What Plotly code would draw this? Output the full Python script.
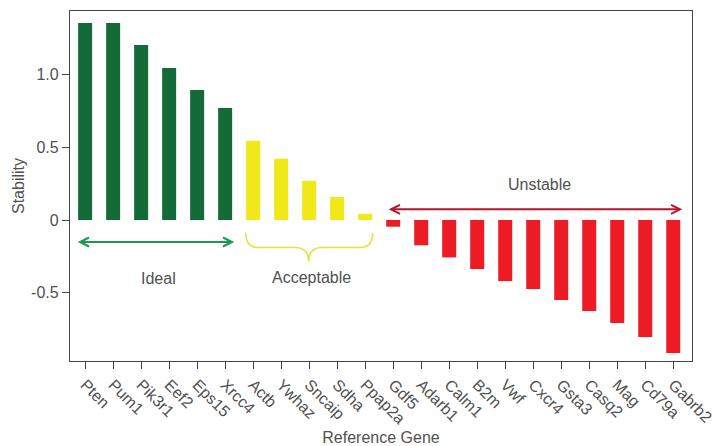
import plotly.graph_objects as go

# Reference genes ranked by expression stability
genes = ["Pten", "Pum1", "Pik3r1", "Eef2", "Eps15", "Xrcc4",
         "Actb", "Ywhaz", "Sncaip", "Sdha", "Ppap2a",
         "Gdf5", "Adarb1", "Calm1", "B2m", "Vwf", "Cxcr4", "Gsta3",
         "Casq2", "Mag", "Cd79a", "Gabrb2"]
stability = [1.356, 1.356, 1.204, 1.046, 0.895, 0.771,
             0.546, 0.422, 0.270, 0.158, 0.043,
             -0.046, -0.174, -0.257, -0.337, -0.420, -0.475, -0.550,
             -0.626, -0.709, -0.805, -0.915]
groups = ["Ideal"] * 6 + ["Acceptable"] * 5 + ["Unstable"] * 11

group_colors = {"Ideal": "#146B37", "Acceptable": "#F0E818", "Unstable": "#ED1C24"}
bar_colors = [group_colors[g] for g in groups]

y_tick_vals = [-0.5, 0, 0.5, 1.0]
y_tick_text = ["-0.5", "0", "0.5", "1.0"]

x_pos = list(range(len(genes)))
X_RANGE = [-0.54, 21.67]
Y_RANGE = [-0.97, 1.438]

W, H = 722, 446
M = dict(l=70, r=30, t=11, b=85)
px_x = (W - M["l"] - M["r"]) / (X_RANGE[1] - X_RANGE[0])
px_y = (H - M["t"] - M["b"]) / (Y_RANGE[1] - Y_RANGE[0])

fig = go.Figure(go.Bar(
    x=x_pos, y=stability, width=0.5,
    marker=dict(color=bar_colors, line=dict(width=0)),
    hovertext=genes,
))

TXT = "#505050"
text_font = dict(family="Liberation Sans, Arial, sans-serif", size=16, color=TXT)


def double_arrow(x0, x1, y, color):
    """Horizontal line with open chevron heads at both ends."""
    dx = 9 / px_x
    dy = 4.5 / px_y
    fig.add_shape(type="line", x0=x0, x1=x1, y0=y, y1=y,
                  line=dict(color=color, width=2))
    for xe, s in ((x0, 1), (x1, -1)):
        fig.add_shape(type="path",
                      path=f"M {xe + s*dx} {y + dy} L {xe} {y} L {xe + s*dx} {y - dy}",
                      line=dict(color=color, width=2))


def bx(p):
    return X_RANGE[0] + (p - M["l"]) / px_x


def by(p):
    return Y_RANGE[1] - (p - M["t"]) / px_y


# Ideal range
double_arrow(bx(80), bx(232), by(242), "#1A9A4A")
fig.add_annotation(x=bx(158), y=by(278), text="Ideal", showarrow=False, font=text_font)

# Acceptable range: curly brace under the yellow bars
brace = (f"M {bx(245.7)} {by(233)} "
         f"Q {bx(246)} {by(247.5)} {bx(258)} {by(247.5)} "
         f"L {bx(296)} {by(247.5)} "
         f"Q {bx(308.7)} {by(248)} {bx(308.7)} {by(261.5)} "
         f"Q {bx(308.7)} {by(248)} {bx(321)} {by(247.5)} "
         f"L {bx(360)} {by(247.5)} "
         f"Q {bx(372.5)} {by(247.5)} {bx(372.7)} {by(233)}")
fig.add_shape(type="path", path=brace, line=dict(color="#E3E33C", width=1.6))
fig.add_annotation(x=bx(311), y=by(277), text="Acceptable", showarrow=False, font=text_font)

# Unstable range
double_arrow(bx(391), bx(680), by(209.3), "#B5162B")
fig.add_annotation(x=bx(539), y=by(184.5), text="Unstable", showarrow=False, font=text_font)

fig.update_layout(
    width=W, height=H,
    margin=M,
    paper_bgcolor="white", plot_bgcolor="white",
    showlegend=False,
    font=text_font,
    xaxis=dict(
        range=X_RANGE, tickmode="array", tickvals=x_pos, ticktext=genes,
        tickangle=45, ticks="outside", ticklen=7, tickcolor="#444",
        showline=True, linecolor="#444", linewidth=1.2, mirror=True,
        showgrid=False, zeroline=False, automargin=False,
        tickfont=dict(size=16, color=TXT),
        title=dict(text="Reference Gene", font=dict(size=16, color=TXT), standoff=10),
    ),
    yaxis=dict(
        range=Y_RANGE, tickmode="array", tickvals=y_tick_vals, ticktext=y_tick_text,
        ticks="outside", ticklen=7, tickcolor="#444",
        showline=True, linecolor="#444", linewidth=1.2, mirror=True,
        showgrid=False, zeroline=False, automargin=False,
        tickfont=dict(size=16, color=TXT),
        title=dict(text="Stability", font=dict(size=16, color=TXT), standoff=2),
    ),
)

fig.write_html("out.html")
